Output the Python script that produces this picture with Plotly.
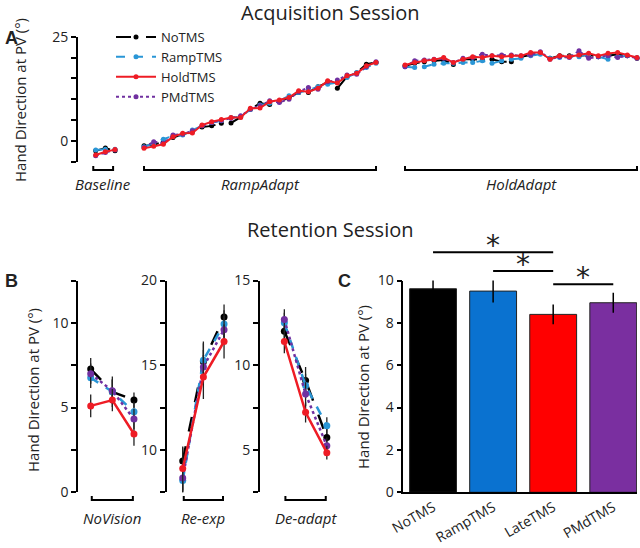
import plotly.graph_objects as go

# ---------------- DATA ----------------
groups = ["NoTMS", "RampTMS", "HoldTMS", "PMdTMS"]
colors = {"NoTMS": "#000000", "RampTMS": "#2a96d6", "HoldTMS": "#ee1c25", "PMdTMS": "#7030a0"}
dashes = {"NoTMS": "longdash", "RampTMS": "dash", "HoldTMS": "solid", "PMdTMS": "dot"}

# Panel A: acquisition session
baseline = {
    "NoTMS":   [-2.4, -1.7, -2.4],
    "RampTMS": [-2.2, -2.0, -2.0],
    "HoldTMS": [-3.4, -2.6, -2.1],
    "PMdTMS":  [-3.6, -2.8, -2.2],
}
ramp_adapt = {
    "NoTMS":   [-1.2, -0.9, -0.3, 0.8, 1.6, 2.2, 3.3, 3.6, 4.2, 4.3, 5.7, 7.6, 9.0, 8.7, 9.4, 10.4, 11.6, 11.6, 13.0, 14.0, 12.6, 15.4, 16.3, 18.4, 18.8],
    "RampTMS": [-1.4, -0.6, 0.4, 1.2, 1.4, 2.6, 3.6, 4.4, 4.8, 5.6, 5.8, 7.5, 8.6, 9.0, 9.6, 10.8, 11.6, 12.2, 13.0, 13.6, 14.0, 15.2, 16.4, 17.6, 18.6],
    "HoldTMS": [-1.8, -1.3, -0.8, 1.0, 1.8, 1.9, 3.8, 4.6, 5.1, 5.6, 5.6, 7.8, 7.9, 9.4, 9.8, 10.4, 12.0, 11.8, 12.6, 14.4, 13.9, 15.6, 16.2, 18.0, 18.8],
    "PMdTMS":  [-1.6, -0.2, -0.6, 1.4, 1.6, 2.4, 3.6, 4.4, 4.9, 5.4, 6.0, 7.6, 8.4, 9.6, 9.2, 10.0, 11.8, 12.8, 12.4, 14.2, 14.6, 15.8, 16.0, 17.8, 19.0],
}
hold_adapt = {
    "NoTMS":   [18.0, 18.6, 19.0, 19.2, 19.4, 18.3, 19.6, 19.6, 19.4, 19.6, 19.0, 19.0, 20.2, 20.6, 21.0, 19.8, 20.4, 20.4, 20.4, 20.6, 20.2, 20.4, 20.8, 20.4, 19.8],
    "RampTMS": [17.8, 17.6, 17.8, 18.4, 18.6, 18.6, 18.8, 18.8, 19.2, 18.6, 19.2, 19.6, 19.8, 20.4, 20.8, 19.8, 20.0, 20.2, 20.2, 20.8, 20.2, 19.6, 20.2, 20.4, 20.0],
    "HoldTMS": [18.2, 18.8, 19.2, 19.5, 20.0, 18.8, 19.6, 20.2, 20.0, 20.4, 20.2, 20.4, 20.4, 21.2, 21.2, 19.6, 20.4, 20.2, 20.6, 21.0, 20.4, 21.0, 21.2, 20.6, 20.0],
    "PMdTMS":  [17.8, 19.2, 19.4, 19.6, 19.8, 18.8, 19.8, 20.0, 20.8, 20.4, 20.6, 20.6, 20.4, 20.6, 21.4, 19.6, 20.2, 20.0, 21.6, 19.8, 20.2, 20.4, 20.0, 20.4, 19.8],
}
phase_labels_A = ["Baseline", "RampAdapt", "HoldAdapt"]

# Panel B: retention session (3 points per block)
blocks_B = ["NoVision", "Re-exp", "De-adapt"]
novision = {"NoTMS": [7.27, 5.93, 5.44], "RampTMS": [6.76, 5.93, 4.75], "HoldTMS": [5.10, 5.44, 3.44], "PMdTMS": [7.00, 5.99, 4.32]}
novision_err = {"NoTMS": [0.65, 0.9, 0.45], "RampTMS": [0.6, 0.7, 0.6], "HoldTMS": [0.67, 0.65, 0.7], "PMdTMS": [0.6, 0.7, 0.6]}
reexp = {"NoTMS": [9.35, 15.2, 17.84], "RampTMS": [8.2, 15.3, 17.44], "HoldTMS": [8.9, 14.3, 16.4], "PMdTMS": [8.35, 14.9, 17.1]}
reexp_err = {"NoTMS": [0.8, 1.2, 0.75], "RampTMS": [0.9, 1.0, 0.8], "HoldTMS": [1.3, 1.3, 1.0], "PMdTMS": [0.9, 1.0, 0.8]}
deadapt = {"NoTMS": [12.0, 9.1, 5.73], "RampTMS": [12.5, 8.8, 6.43], "HoldTMS": [11.4, 7.22, 4.84], "PMdTMS": [12.7, 8.3, 5.24]}
deadapt_err = {"NoTMS": [0.7, 0.8, 0.5], "RampTMS": [0.6, 0.7, 0.5], "HoldTMS": [0.7, 0.6, 0.4], "PMdTMS": [0.6, 0.7, 0.5]}

# Panel C: bars
bar_cats = ["NoTMS", "RampTMS", "LateTMS", "PMdTMS"]
bar_vals = [9.61, 9.50, 8.40, 8.95]
bar_errs = [0.52, 0.54, 0.47, 0.47]
bar_colors = ["#000000", "#0a72d0", "#ff0000", "#7a2fa0"]
sig_pairs = [(0, 2), (1, 2), (2, 3)]

# ---------------- HELPERS ----------------
W, H = 640, 548
def px(x): return x / W
def py(y): return 1 - y / H

FONT = "Open Sans"
order = ["NoTMS", "RampTMS", "PMdTMS", "HoldTMS"]  # draw red on top
rank = {g: i for i, g in enumerate(groups)}

fig = go.Figure()

# ---------------- PANEL A ----------------
xb = list(range(1, len(baseline["NoTMS"]) + 1))
xr = list(range(6, 6 + len(ramp_adapt["NoTMS"])))
xh = list(range(33, 33 + len(hold_adapt["NoTMS"])))
for g in order:
    for i, (xs, d) in enumerate([(xb, baseline), (xr, ramp_adapt), (xh, hold_adapt)]):
        fig.add_trace(go.Scatter(
            x=xs, y=d[g], mode="lines+markers", name=g, legendgroup=g,
            showlegend=(i == 0), legendrank=rank[g],
            line=dict(color=colors[g], width=2, dash=dashes[g]),
            marker=dict(color=colors[g], size=5),
            xaxis="x", yaxis="y"))

# ---------------- PANEL B ----------------
for k, (d, e) in enumerate([(novision, novision_err), (reexp, reexp_err), (deadapt, deadapt_err)]):
    ax = str(k + 2)
    for g in order:
        fig.add_trace(go.Scatter(
            x=[1, 2, 3], y=d[g], mode="lines+markers", showlegend=False,
            line=dict(color=colors[g], width=2.5, dash=dashes[g]),
            marker=dict(color=colors[g], size=7),
            error_y=dict(type="data", array=e[g], color="#222222", thickness=1.3, width=0),
            xaxis="x" + ax, yaxis="y" + ax))

# ---------------- PANEL C ----------------
fig.add_trace(go.Bar(
    x=bar_cats, y=bar_vals, showlegend=False,
    marker=dict(color=bar_colors, line=dict(color="#222222", width=1)),
    error_y=dict(type="data", array=bar_errs, color="#000000", thickness=1.5, width=0),
    width=0.78, xaxis="x5", yaxis="y5"))

# ---------------- AXES ----------------
axis_common = dict(showline=True, linecolor="black", linewidth=2, ticks="outside",
                   ticklen=5, tickwidth=2, tickcolor="black", showgrid=False, zeroline=False,
                   automargin=False,
                   tickfont=dict(family=FONT, size=14, color="#222222"))

yA_dom = [py(161.7), py(36.7)]
yB_dom = [py(492.3), py(280.5)]

layout = dict(
    width=W, height=H, margin=dict(l=0, r=0, t=0, b=0, autoexpand=False),
    plot_bgcolor="white", paper_bgcolor="white",
    font=dict(family=FONT, color="#222222"),
    showlegend=True,
    legend=dict(x=px(111), y=py(22), xanchor="left", yanchor="top",
                font=dict(family=FONT, size=13, color="#222222"),
                bgcolor="rgba(0,0,0,0)", tracegroupgap=0, itemwidth=40),
    xaxis=dict(domain=[px(78), 1.0], range=[-0.83, 57.31], visible=False, automargin=False),
    yaxis=dict(domain=yA_dom, range=[-5, 25], tickvals=[-5, 0, 5, 10, 15, 20, 25],
               ticktext=["", "0", "", "", "", "", "25"], **axis_common),
    xaxis2=dict(domain=[px(78.3), px(145)], range=[0.427, 3.51], visible=False, automargin=False),
    yaxis2=dict(domain=yB_dom, range=[0, 12.5], anchor="x2",
                tickvals=[0, 2.5, 5, 7.5, 10, 12.5], ticktext=["0", "", "5", "", "10", ""], **axis_common),
    xaxis3=dict(domain=[px(166.7), px(235)], range=[0.225, 3.53], visible=False, automargin=False),
    yaxis3=dict(domain=yB_dom, range=[7.5, 20], anchor="x3",
                tickvals=[7.5, 10, 12.5, 15, 17.5, 20], ticktext=["", "10", "", "15", "", "20"], **axis_common),
    xaxis4=dict(domain=[px(260), px(340)], range=[-0.146, 3.62], visible=False, automargin=False),
    yaxis4=dict(domain=yB_dom, range=[2.5, 15], anchor="x4",
                tickvals=[2.5, 5, 7.5, 10, 12.5, 15], ticktext=["", "5", "", "10", "", "15"], **axis_common),
    xaxis5=dict(domain=[px(403.3), px(637)], range=[-0.495, 3.395], anchor="y5", automargin=False,
                showline=True, linecolor="black", linewidth=1.5, ticks="", showgrid=False,
                tickangle=-30, tickfont=dict(family=FONT, size=14, color="#222222")),
    yaxis5=dict(domain=yB_dom, range=[0, 10], anchor="x5",
                tickvals=[0, 2, 4, 6, 8, 10], **{**axis_common, "linewidth": 1.5, "tickwidth": 1.5}),
)
fig.update_layout(**layout)

# ---------------- ANNOTATIONS / SHAPES ----------------
ann = []
shapes = []
def text(x, y, s, size=15, bold=False, italic=False, angle=0, xanchor="center", yanchor="middle", family=FONT):
    if bold: s = "<b>" + s + "</b>"
    if italic: s = "<i>" + s + "</i>"
    ann.append(dict(x=x, y=y, xref="paper", yref="paper", text=s, showarrow=False,
                    textangle=angle, xanchor=xanchor, yanchor=yanchor,
                    font=dict(family=family, size=size, color="#222222")))

text(px(330), py(13), "Acquisition Session", size=20)
text(px(330), py(229), "Retention Session", size=20)
text(px(3), py(38), "A", size=18, bold=True, xanchor="left", family="Liberation Sans")
text(px(3), py(281), "B", size=18, bold=True, xanchor="left", family="Liberation Sans")
text(px(336), py(281), "C", size=18, bold=True, xanchor="left", family="Liberation Sans")
text(px(20), py(100), "Hand Direction at PV (°)", size=15, angle=-90)
text(px(33), py(390), "Hand Direction at PV (°)", size=15, angle=-90)
text(px(363), py(387), "Hand Direction at PV (°)", size=15, angle=-90)

def bracket(xref, x0, x1, ypx, label, lypx):
    yb, yt = py(ypx), py(ypx - 4)
    shapes.append(dict(type="path", xref=xref, yref="paper",
                       path=f"M {x0},{yt} L {x0},{yb} L {x1},{yb} L {x1},{yt}",
                       line=dict(color="black", width=2)))
    ann.append(dict(x=(x0 + x1) / 2, y=py(lypx), xref=xref, yref="paper",
                    text="<i>" + label + "</i>", showarrow=False, xanchor="center", yanchor="middle",
                    font=dict(family=FONT, size=15, color="#222222")))

for xs, lab in zip([xb, xr, xh], phase_labels_A):
    x0 = xs[0] - 0.25 if lab == "Baseline" else xs[0]
    x1 = xs[-1] - 0.2 if lab == "Baseline" else xs[-1]
    bracket("x", x0, x1, 170, lab, 184)
for k, lab in enumerate(blocks_B):
    bracket("x" + str(k + 2), 1.05, 2.95, 500, lab, 518)

sig_y = [252.3, 271, 284.3]
for (a, b), ys in zip(sig_pairs, sig_y):
    shapes.append(dict(type="line", xref="x5", yref="paper", x0=a, x1=b, y0=py(ys), y1=py(ys),
                       line=dict(color="black", width=2)))
    ann.append(dict(x=(a + b) / 2, y=py(ys - 7), xref="x5", yref="paper", text="*",
                    showarrow=False, xanchor="center", yanchor="middle",
                    font=dict(family="DejaVu Sans", size=28, color="#222222")))

fig.update_layout(annotations=ann, shapes=shapes)
fig.write_html("out.html", config={"displayModeBar": False},
               post_script="document.body.style.margin='0px';document.body.style.overflow='hidden';")
